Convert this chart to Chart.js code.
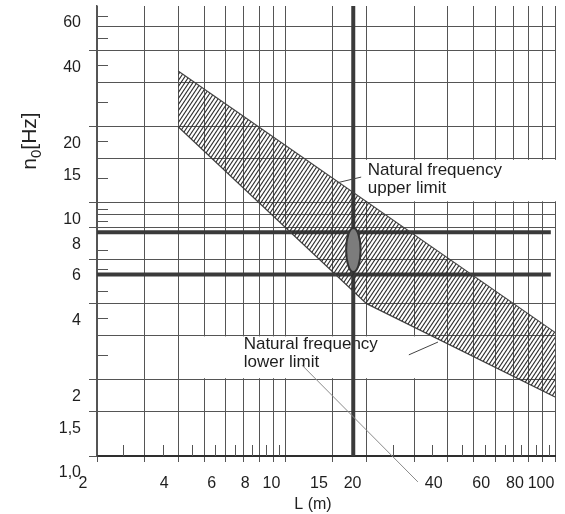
<!DOCTYPE html>
<html>
<head>
<meta charset="utf-8">
<script src="https://cdn.jsdelivr.net/npm/chart.js@4.4.1/dist/chart.umd.min.js"></script>
<style>
  html, body { margin: 0; padding: 0; background: #fff; }
</style>
</head>
<body>
<canvas id="myChart" width="565" height="514"></canvas>
<script>
// span L (m) on the x axis, natural frequency n0 (Hz) on the y axis, both logarithmic
const xGrid = [2, 3, 4, 5, 6, 7, 8, 9, 10, 15, 20, 30, 40, 50, 60, 70, 80, 90, 100];
const xTickValues = [2, 4, 6, 8, 10, 15, 20, 40, 60, 80, 100];
const xTickLabels = ['2', '4', '6', '8', '10', '15', '20', '40', '60', '80', '100'];
const xMinor = [2.5, 3.5, 4.5, 5.5, 6.5, 7.5, 8.5, 9.5, 25, 35, 45, 55, 65, 75, 85, 95];

const yGrid = [1, 1.5, 2, 3, 4, 6, 8, 9, 10, 15, 20, 30, 40, 50, 60];
const yTickValues = [1, 1.5, 2, 4, 6, 8, 10, 15, 20, 40, 60];
const yTickLabels = ['1,0', '1,5', '2', '4', '6', '8', '10', '15', '20', '40', '60'];
const yLongTick = [1, 1.5, 2, 4, 6, 8, 10, 20, 40];
const yMinor = [2.5, 3.5, 4.5, 5.5, 6.5, 8.5, 9.5, 12.5, 17.5, 25, 35, 45, 55];

// natural frequency limits
const upperL = [4, 100];
const upperN = [33.2, 3.08];
const lowerL = [4, 20, 100];
const lowerN = [20, 4, 1.71];

// marked case
const markL = 17.85;
const freqL = [2, 96.5];
const freqN = [7.65, 5.22];
const ovalL = [16.8, 19.0];
const ovalN = [5.33, 7.96];

Chart.defaults.font.family = "'Liberation Sans', Arial, sans-serif";

const canvas = document.getElementById('myChart');
const context = canvas.getContext('2d');

function hatch() {
  const tile = document.createElement('canvas');
  tile.width = 4;
  tile.height = 6;
  const g = tile.getContext('2d');
  g.strokeStyle = '#2e2e2e';
  g.lineWidth = 1.1;
  for (const dx of [-4, 0, 4]) {
    g.beginPath();
    g.moveTo(dx - 1, 7.5);
    g.lineTo(dx + 5, -1.5);
    g.stroke();
  }
  return context.createPattern(tile, 'repeat');
}

function points(xs, ys) {
  return xs.map((v, i) => ({ x: v, y: ys[i] }));
}

// white label boxes, texts and leader lines (data units)
const notes = {
  boxes: [
    { l: [19.2, 101], n: [10.15, 14.8] },
    { l: [4.42, 31.6], n: [2.03, 2.97] }
  ],
  texts: [
    { l: 20.2, n: 13.4, lines: ['Natural frequency', 'upper limit'] },
    { l: 7.0, n: 2.77, lines: ['Natural frequency', 'lower limit'] }
  ],
  leaders: [
    { from: [15.5, 12.0], to: [19.1, 12.65], color: '#444' },
    { from: [28.7, 2.51], to: [36.8, 2.82], color: '#444' },
    { from: [11.5, 2.29], to: [31.0, 0.79], color: '#8a8a8a' }
  ]
};

const boxesPlugin = {
  id: 'boxes',
  beforeDatasetsDraw(chart) {
    const { ctx, scales: { x, y } } = chart;
    ctx.save();
    ctx.fillStyle = '#fff';
    notes.boxes.forEach(b => {
      const x0 = x.getPixelForValue(b.l[0]), x1 = x.getPixelForValue(b.l[1]);
      const y0 = y.getPixelForValue(b.n[1]), y1 = y.getPixelForValue(b.n[0]);
      ctx.fillRect(x0, y0, x1 - x0, y1 - y0);
    });
    ctx.fillStyle = '#1e1e1e';
    ctx.font = "17px 'Liberation Sans', Arial, sans-serif";
    ctx.textBaseline = 'middle';
    ctx.textAlign = 'left';
    notes.texts.forEach(t => {
      const px = x.getPixelForValue(t.l), py = y.getPixelForValue(t.n);
      t.lines.forEach((s, i) => ctx.fillText(s, px, py + i * 18));
    });
    ctx.restore();
  },
  afterDatasetsDraw(chart) {
    const { ctx, chartArea: a, scales: { x, y } } = chart;
    ctx.save();

    // short inside ticks
    ctx.strokeStyle = '#555';
    ctx.lineWidth = 1;
    ctx.beginPath();
    xMinor.forEach(v => {
      const px = Math.round(x.getPixelForValue(v)) + 0.5;
      ctx.moveTo(px, a.bottom);
      ctx.lineTo(px, a.bottom - 11);
    });
    yMinor.forEach(v => {
      const py = Math.round(y.getPixelForValue(v)) + 0.5;
      ctx.moveTo(a.left, py);
      ctx.lineTo(a.left + 11, py);
    });
    ctx.stroke();

    // leaders
    notes.leaders.forEach(d => {
      ctx.strokeStyle = d.color;
      ctx.beginPath();
      ctx.moveTo(x.getPixelForValue(d.from[0]), y.getPixelForValue(d.from[1]));
      ctx.lineTo(x.getPixelForValue(d.to[0]), y.getPixelForValue(d.to[1]));
      ctx.stroke();
    });

    // oval
    const xa = x.getPixelForValue(ovalL[0]), xb = x.getPixelForValue(ovalL[1]);
    const ya = y.getPixelForValue(ovalN[0]), yb = y.getPixelForValue(ovalN[1]);
    ctx.beginPath();
    ctx.ellipse((xa + xb) / 2, (ya + yb) / 2, Math.abs(xb - xa) / 2, Math.abs(yb - ya) / 2, 0, 0, Math.PI * 2);
    ctx.fillStyle = '#7c7c7c';
    ctx.fill();
    ctx.strokeStyle = '#333';
    ctx.lineWidth = 2;
    ctx.stroke();

    // axis titles
    ctx.fillStyle = '#222';
    ctx.textBaseline = 'alphabetic';
    ctx.textAlign = 'center';
    ctx.font = "16px 'Liberation Sans', Arial, sans-serif";
    ctx.fillText('L (m)', 313, 509);

    ctx.translate(36, 141);
    ctx.rotate(-Math.PI / 2);
    const big = "21px 'Liberation Sans', Arial, sans-serif";
    const small = "15px 'Liberation Sans', Arial, sans-serif";
    ctx.font = big;
    const wn = ctx.measureText('n').width, wh = ctx.measureText('[Hz]').width;
    ctx.font = small;
    const w0 = ctx.measureText('0').width;
    let cx = -(wn + w0 + wh) / 2;
    ctx.textAlign = 'left';
    ctx.font = big;
    ctx.fillText('n', cx, 0);
    cx += wn;
    ctx.font = small;
    ctx.fillText('0', cx, 5);
    cx += w0;
    ctx.font = big;
    ctx.fillText('[Hz]', cx, 0);
    ctx.restore();
  }
};

const lineStyle = { pointRadius: 0, tension: 0, fill: false };

const myChart = new Chart(context, {
  type: 'line',
  data: {
    datasets: [
      {
        ...lineStyle,
        label: 'Natural frequency upper limit',
        data: points(upperL, upperN),
        borderColor: '#444',
        borderWidth: 1.2,
        backgroundColor: hatch(),
        fill: '+1'
      },
      {
        ...lineStyle,
        label: 'Natural frequency lower limit',
        data: points(lowerL, lowerN),
        borderColor: '#444',
        borderWidth: 1.2
      },
      {
        ...lineStyle,
        label: 'L',
        data: points([markL, markL], [1, 60]),
        borderColor: '#3a3a3a',
        borderWidth: 4
      },
      {
        ...lineStyle,
        label: 'n0 a',
        data: points(freqL, [freqN[0], freqN[0]]),
        borderColor: '#3a3a3a',
        borderWidth: 4
      },
      {
        ...lineStyle,
        label: 'n0 b',
        data: points(freqL, [freqN[1], freqN[1]]),
        borderColor: '#3a3a3a',
        borderWidth: 4
      }
    ]
  },
  options: {
    responsive: false,
    animation: false,
    devicePixelRatio: 1,
    layout: { autoPadding: false, padding: { top: 6, right: 10, left: 0, bottom: 0 } },
    plugins: {
      legend: { display: false },
      tooltip: { enabled: false }
    },
    scales: {
      x: {
        type: 'logarithmic',
        min: 2,
        max: 100,
        afterBuildTicks: s => { s.ticks = xGrid.map(v => ({ value: v })); },
        afterFit: s => {
          s.height = 58;
          s.paddingLeft = 0;
          s.paddingRight = 0;
        },
        grid: { color: '#555', lineWidth: 1, tickLength: 6, tickColor: '#555' },
        border: { display: true, color: '#2e2e2e', width: 2 },
        ticks: {
          autoSkip: false,
          maxRotation: 0,
          labelOffset: -14,
          padding: 12,
          color: '#1e1e1e',
          font: { size: 16 },
          callback: v => {
            const i = xTickValues.indexOf(v);
            return i < 0 ? '' : xTickLabels[i];
          }
        }
      },
      y: {
        type: 'logarithmic',
        min: 1,
        max: 60,
        afterBuildTicks: s => { s.ticks = yGrid.map(v => ({ value: v })); },
        afterFit: s => {
          s.width = 97;
          s.paddingTop = 0;
          s.paddingBottom = 0;
        },
        grid: {
          color: c => (c.tick && c.tick.value === 60 ? 'rgba(0,0,0,0)' : '#555'),
          tickColor: c => (c.tick && yLongTick.includes(c.tick.value) ? '#555' : 'rgba(0,0,0,0)'),
          lineWidth: 1,
          tickLength: 8
        },
        border: { display: true, color: '#555', width: 1.5 },
        ticks: {
          autoSkip: false,
          labelOffset: 17,
          padding: 8,
          color: '#1e1e1e',
          font: { size: 16 },
          callback: v => {
            const i = yTickValues.indexOf(v);
            return i < 0 ? '' : yTickLabels[i];
          }
        }
      }
    }
  },
  plugins: [boxesPlugin]
});
</script>
</body>
</html>
